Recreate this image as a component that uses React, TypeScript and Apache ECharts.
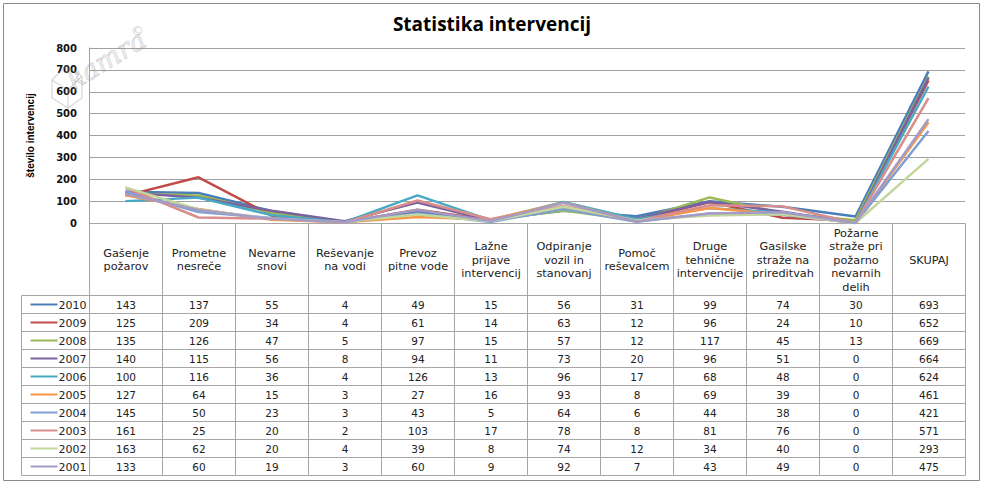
import React, { useEffect, useRef } from "react";
import * as echarts from "echarts";

const categories = [
  "Gašenje\npožarov",
  "Prometne\nnesreče",
  "Nevarne\nsnovi",
  "Reševanje\nna vodi",
  "Prevoz\npitne vode",
  "Lažne\nprijave\nintervencij",
  "Odpiranje\nvozil in\nstanovanj",
  "Pomoč\nreševalcem",
  "Druge\ntehnične\nintervencije",
  "Gasilske\nstraže na\nprireditvah",
  "Požarne\nstraže pri\npožarno\nnevarnih\ndelih",
  "SKUPAJ",
];

const years = ["2010", "2009", "2008", "2007", "2006", "2005", "2004", "2003", "2002", "2001"];

const v2010 = [143, 137, 55, 4, 49, 15, 56, 31, 99, 74, 30, 693];
const v2009 = [125, 209, 34, 4, 61, 14, 63, 12, 96, 24, 10, 652];
const v2008 = [135, 126, 47, 5, 97, 15, 57, 12, 117, 45, 13, 669];
const v2007 = [140, 115, 56, 8, 94, 11, 73, 20, 96, 51, 0, 664];
const v2006 = [100, 116, 36, 4, 126, 13, 96, 17, 68, 48, 0, 624];
const v2005 = [127, 64, 15, 3, 27, 16, 93, 8, 69, 39, 0, 461];
const v2004 = [145, 50, 23, 3, 43, 5, 64, 6, 44, 38, 0, 421];
const v2003 = [161, 25, 20, 2, 103, 17, 78, 8, 81, 76, 0, 571];
const v2002 = [163, 62, 20, 4, 39, 8, 74, 12, 34, 40, 0, 293];
const v2001 = [133, 60, 19, 3, 60, 9, 92, 7, 43, 49, 0, 475];

const seriesValues = [v2010, v2009, v2008, v2007, v2006, v2005, v2004, v2003, v2002, v2001];

const colors = [
  "#4A7EBB",
  "#BE4B48",
  "#98B954",
  "#7D60A0",
  "#46AAC5",
  "#F79646",
  "#7F9FD3",
  "#DA8E8C",
  "#C3D69B",
  "#A49CC6",
];

const yMin = 0;
const yMax = 800;
const yInterval = 100;

// table geometry in "column units" / "row units"
const legendColWidth = 68 / 73;
const headerHeight = 72;
const rowHeight = 18;

type Cell = {
  x0: number;
  x1: number;
  y0: number;
  y1: number;
  kind: "header" | "value" | "legend";
  text: string;
  color?: string;
};

function buildCells(): Cell[] {
  const cells: Cell[] = [];
  categories.forEach((c, i) => {
    cells.push({ x0: i, x1: i + 1, y0: 0, y1: headerHeight, kind: "header", text: c });
  });
  years.forEach((y, r) => {
    const y0 = headerHeight + r * rowHeight;
    cells.push({
      x0: -legendColWidth,
      x1: 0,
      y0,
      y1: y0 + rowHeight,
      kind: "legend",
      text: y,
      color: colors[r],
    });
    seriesValues[r].forEach((v, i) => {
      cells.push({ x0: i, x1: i + 1, y0, y1: y0 + rowHeight, kind: "value", text: String(v) });
    });
  });
  return cells;
}

export default function App() {
  const ref = useRef<HTMLDivElement>(null);

  useEffect(() => {
    if (!ref.current) return;
    const chart = echarts.init(ref.current, undefined, { renderer: "svg" });
    const cells = buildCells();
    const valueFont = "10.5px 'DejaVu Sans', Verdana, sans-serif";
    const headerFont = "11.3px 'DejaVu Sans', Verdana, sans-serif";
    const yearFont = "11px 'DejaVu Sans', Verdana, sans-serif";
    const wm = "rgba(150,150,150,0.38)";

    const lineSeries = years.map((y, k) => ({
      name: y,
      type: "line",
      xAxisIndex: 0,
      yAxisIndex: 0,
      data: seriesValues[k],
      symbol: "none",
      lineStyle: { width: 2.5, color: colors[k] },
      itemStyle: { color: colors[k] },
      z: 3,
    }));

    const option: any = {
      animation: false,
      backgroundColor: "#ffffff",
      title: {
        text: "Statistika intervencij",
        left: "center",
        top: 9,
        textStyle: {
          fontFamily: "'Open Sans', sans-serif",
          fontWeight: "bold",
          fontSize: 19,
          color: "#000",
        },
      },
      graphic: [
        {
          type: "rect",
          shape: { x: 3.5, y: 3.5, width: 976, height: 477 },
          style: { fill: "transparent", stroke: "#8a8a8a", lineWidth: 1 },
          silent: true,
          z: 0,
        },
        {
          type: "text",
          x: 76,
          y: 94,
          rotation: 0.55,
          style: {
            text: "kamra",
            font: "italic 27px 'DejaVu Serif', serif",
            fill: "rgba(150,150,150,0.15)",
            stroke: wm,
            lineWidth: 0.8,
            textVerticalAlign: "bottom",
          },
          silent: true,
          z: 1,
        },
        {
          type: "text",
          x: 131,
          y: 24,
          style: {
            text: "©",
            font: "13px 'DejaVu Sans', sans-serif",
            fill: "rgba(150,150,150,0.5)",
          },
          silent: true,
          z: 1,
        },
        {
          type: "polyline",
          shape: {
            points: [
              [52, 80],
              [66, 66],
              [82, 76],
              [82, 98],
              [68, 108],
              [52, 98],
              [52, 80],
              [68, 90],
              [82, 76],
            ],
          },
          style: { fill: "none", stroke: wm, lineWidth: 1.2 },
          silent: true,
          z: 1,
        },
        {
          type: "line",
          shape: { x1: 68, y1: 90, x2: 68, y2: 108 },
          style: { stroke: wm, lineWidth: 1.2 },
          silent: true,
          z: 1,
        },
      ],
      grid: [
        { left: 89, right: 19, top: 48, bottom: 261, containLabel: false },
        { left: 21, right: 19, top: 223, bottom: 9, containLabel: false },
      ],
      xAxis: [
        {
          type: "category",
          gridIndex: 0,
          data: categories,
          boundaryGap: true,
          axisLine: { show: false },
          axisTick: { show: false },
          axisLabel: { show: false },
          splitLine: { show: false },
        },
        {
          type: "value",
          gridIndex: 1,
          min: -legendColWidth,
          max: categories.length,
          show: false,
        },
      ],
      yAxis: [
        {
          type: "value",
          gridIndex: 0,
          min: yMin,
          max: yMax,
          interval: yInterval,
          name: "število intervencij",
          nameLocation: "middle",
          nameGap: 54,
          nameRotate: 90,
          nameTextStyle: {
            fontFamily: "'Liberation Sans', Arial, sans-serif",
            fontWeight: "bold",
            fontSize: 10,
            color: "#000",
          },
          axisLine: { show: true, lineStyle: { color: "#a0a0a0", width: 1 } },
          axisTick: { show: false },
          axisLabel: {
            margin: 12,
            fontFamily: "'DejaVu Sans', Verdana, sans-serif",
            fontSize: 10,
            fontWeight: "bold",
            color: "#111",
          },
          splitLine: { show: true, lineStyle: { color: "#a0a0a0", width: 1 } },
        },
        {
          type: "value",
          gridIndex: 1,
          min: 0,
          max: headerHeight + rowHeight * years.length,
          inverse: true,
          show: false,
        },
      ],
      series: [
        ...lineSeries,
        {
          type: "custom",
          name: "table",
          xAxisIndex: 1,
          yAxisIndex: 1,
          clip: false,
          silent: true,
          z: 2,
          data: cells.map((c) => [c.x0, c.y0, c.x1, c.y1]),
          encode: { x: [0, 2], y: [1, 3] },
          renderItem: (params: any, api: any) => {
            const c = cells[params.dataIndex];
            const p0 = api.coord([c.x0, c.y0]);
            const p1 = api.coord([c.x1, c.y1]);
            const x = Math.round(p0[0]) + 0.5;
            const y = Math.round(p0[1]) + 0.5;
            const w = Math.round(p1[0]) - Math.round(p0[0]);
            const h = Math.round(p1[1]) - Math.round(p0[1]);
            const children: any[] = [
              {
                type: "rect",
                shape: { x, y, width: w, height: h },
                style: { fill: "transparent", stroke: "#a6a6a6", lineWidth: 1 },
              },
            ];
            if (c.kind === "legend") {
              const cy = y + h / 2;
              children.push({
                type: "line",
                shape: { x1: x + 9, y1: cy, x2: x + 36, y2: cy },
                style: { stroke: c.color, lineWidth: 2 },
              });
              children.push({
                type: "text",
                x: x + 37,
                y: cy + 0.5,
                style: {
                  text: c.text,
                  font: yearFont,
                  fill: "#222",
                  textAlign: "left",
                  textVerticalAlign: "middle",
                },
              });
            } else {
              children.push({
                type: "text",
                x: x + w / 2,
                y: y + h / 2 + 0.5,
                style: {
                  text: c.text,
                  font: c.kind === "header" ? headerFont : valueFont,
                  fill: "#222",
                  textAlign: "center",
                  textVerticalAlign: "middle",
                  lineHeight: 13.5,
                },
              });
            }
            return { type: "group", children };
          },
        },
      ],
    };

    chart.setOption(option);
    return () => chart.dispose();
  }, []);

  return (
    <div
      ref={ref}
      style={{ position: "fixed", left: 0, top: 0, width: 984, height: 484, background: "#fff" }}
    />
  );
}
